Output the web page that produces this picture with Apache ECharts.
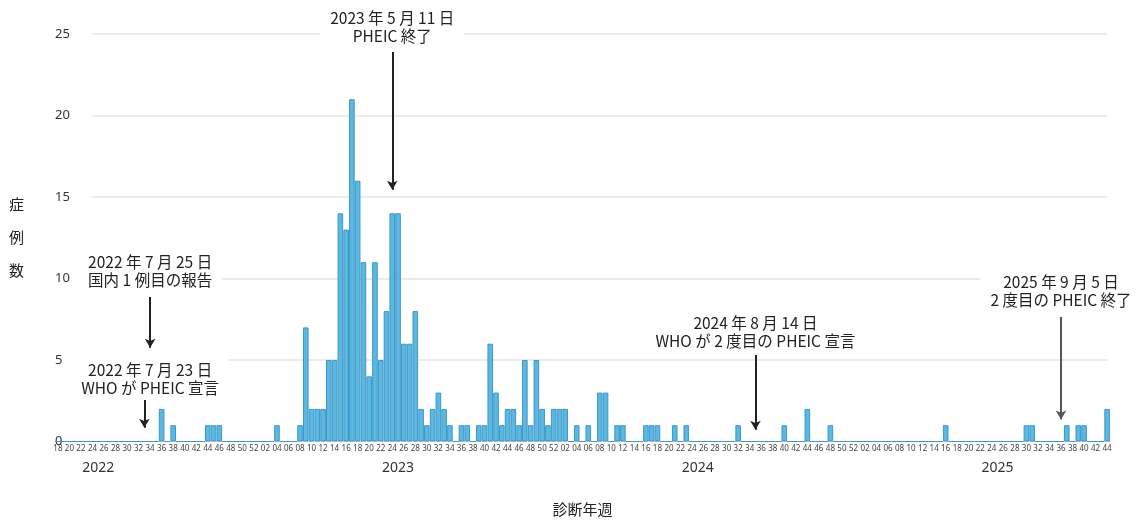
<!DOCTYPE html>
<html>
<head>
<meta charset="utf-8">
<script src="https://cdn.jsdelivr.net/npm/echarts@6/dist/echarts.min.js"></script>
<style>
  html, body { margin: 0; padding: 0; background: #fff; }
  #chart { width: 1136px; height: 523px; }
</style>
</head>
<body>
<div id="chart"></div>
<script>
// Weekly case counts
// 2022: weeks 18–52
const cases2022 = [0,0,0,0,0,0,0,0,0,0,0,0,0,0,0,0,0,0,2,0,1,0,0,0,0,0,1,1,1,0,0,0,0,0,0];
// 2023: weeks 01–52
const cases2023 = [0,0,0,1,0,0,0,1,7,2,2,2,5,5,14,13,21,16,11,4,11,5,8,14,14,6,6,8,2,1,2,3,2,1,0,1,1,0,1,1,6,3,1,2,2,1,5,1,5,2,1,2];
// 2024: weeks 01–52
const cases2024 = [2,2,0,1,0,1,0,3,3,0,1,1,0,0,0,1,1,1,0,0,1,0,1,0,0,0,0,0,0,0,0,1,0,0,0,0,0,0,0,1,0,0,0,2,0,0,0,1,0,0,0,0];
// 2025: weeks 01–44
const cases2025 = [0,0,0,0,0,0,0,0,0,0,0,0,0,0,0,1,0,0,0,0,0,0,0,0,0,0,0,0,0,1,1,0,0,0,0,0,1,0,1,1,0,0,0,2];

const yearBlocks = [[2022, 18, cases2022], [2023, 1, cases2023], [2024, 1, cases2024], [2025, 1, cases2025]];
const categories = [];
const values = [];
yearBlocks.forEach(([year, firstWeek, arr]) => {
  arr.forEach((v, i) => {
    categories.push(year + '-W' + String(firstWeek + i).padStart(2, '0'));
    values.push(v);
  });
});

const yearLabels = { '2022-W25': '2022', '2023-W25': '2023', '2024-W25': '2024', '2025-W25': '2025' };
const gridValues = [5, 10, 15, 20, 25];
const gridStartCategory = '2022-W24';

const annotations = [
  { text: '2022 年 7 月 25 日\n国内 1 例目の報告', textAt: ['2022-W34', 10.46], shift: 0, from: ['2022-W34', 8.87], to: ['2022-W34', 5.75], color: '#222' },
  { text: '2022 年 7 月 23 日\nWHO が PHEIC 宣言', textAt: ['2022-W34', 3.83], shift: 0, from: ['2022-W33', 2.67], to: ['2022-W33', 0.85], color: '#222' },
  { text: '2023 年 5 月 11 日\nPHEIC 終了', textAt: ['2023-W24', 25], shift: -7, from: ['2023-W24', 23.9], to: ['2023-W24', 15.45], color: '#222' },
  { text: '2024 年 8 月 14 日\nWHO が 2 度目の PHEIC 宣言', textAt: ['2024-W35', 6.69], shift: 0, from: ['2024-W35', 5.31], to: ['2024-W35', 0.72], color: '#222' },
  { text: '2025 年 9 月 5 日\n2 度目の PHEIC 終了', textAt: ['2025-W36', 9.2], shift: 0, from: ['2025-W36', 7.64], to: ['2025-W36', 1.35], color: '#555' }
];

const FONT = '"Noto Sans CJK JP", "Noto Sans", sans-serif';
const chart = echarts.init(document.getElementById('chart'), null, { renderer: 'canvas' });

chart.setOption({
  animation: false,
  backgroundColor: '#fff',
  textStyle: { fontFamily: FONT },
  grid: { left: 55, right: 26, top: 34, bottom: 81.5, containLabel: false },
  xAxis: [
    {
      type: 'category',
      data: categories,
      position: 'bottom',
      boundaryGap: true,
      axisLine: { show: true, lineStyle: { color: '#dddddd', width: 1 } },
      axisTick: { show: false },
      axisLabel: {
        interval: 1,
        margin: 3,
        fontSize: 8,
        color: '#444',
        fontFamily: '"Noto Sans", sans-serif',
        formatter: c => c.slice(-2)
      },
      name: '診断年週',
      nameLocation: 'middle',
      nameGap: 60,
      nameTextStyle: { fontSize: 15, color: '#222', fontFamily: FONT },
      splitLine: { show: false }
    },
    {
      type: 'category',
      data: categories,
      position: 'bottom',
      gridIndex: 0,
      axisLine: { show: false },
      axisTick: { show: false },
      splitLine: { show: false },
      axisLabel: {
        interval: (i, c) => yearLabels[c] !== undefined,
        formatter: c => yearLabels[c] || '',
        margin: 20,
        fontSize: 14,
        color: '#333',
        fontFamily: '"Noto Sans", sans-serif'
      }
    }
  ],
  yAxis: {
    type: 'value',
    min: 0,
    max: 25,
    interval: 5,
    axisLine: { show: false },
    axisTick: { show: false },
    splitLine: { show: false },
    axisLabel: { inside: true, margin: 0, fontSize: 13, color: '#333', fontFamily: '"Noto Sans", sans-serif' },
    name: '症\n例\n数',
    nameLocation: 'middle',
    nameRotate: 0,
    nameGap: 31,
    nameTextStyle: { fontSize: 15, lineHeight: 33, color: '#222', fontFamily: FONT, padding: [0, 0, 8, 0] }
  },
  series: [
    {
      type: 'bar',
      data: values,
      xAxisIndex: 0,
      barCategoryGap: '3%',
      itemStyle: { color: '#5cb8e0', borderColor: '#3b98c8', borderWidth: 1 },
      z: 2,
      markLine: {
        silent: true,
        z: 1,
        symbol: ['none', 'none'],
        label: { show: false },
        lineStyle: { color: '#e4e4e4', width: 1.5, type: 'solid' },
        data: gridValues.map(v => [
          { coord: [gridStartCategory, v] },
          { coord: [categories[categories.length - 1], v] }
        ])
      }
    },
    {
      type: 'line',
      data: [],
      xAxisIndex: 0,
      clip: false,
      markLine: {
        silent: true,
        z: 6,
        symbol: ['none', 'arrow'],
        symbolSize: [8, 9],
        label: { show: false },
        data: annotations.map(a => [
          { coord: a.from, lineStyle: { color: a.color, width: 2, type: 'solid' } },
          { coord: a.to }
        ])
      },
      markPoint: {
        silent: true,
        z: 7,
        symbol: 'circle',
        symbolSize: 0,
        itemStyle: { color: 'rgba(0,0,0,0)' },
        data: annotations.map(a => ({
          coord: a.textAt,
          value: 0,
          label: {
            show: true,
            position: 'inside',
            offset: [0, a.shift],
            formatter: a.text,
            fontSize: 15.5,
            lineHeight: 18,
            color: '#222',
            align: 'center',
            verticalAlign: 'middle',
            backgroundColor: '#fff',
            padding: [3, 10],
            fontFamily: FONT
          }
        }))
      }
    }
  ]
});
</script>
</body>
</html>
